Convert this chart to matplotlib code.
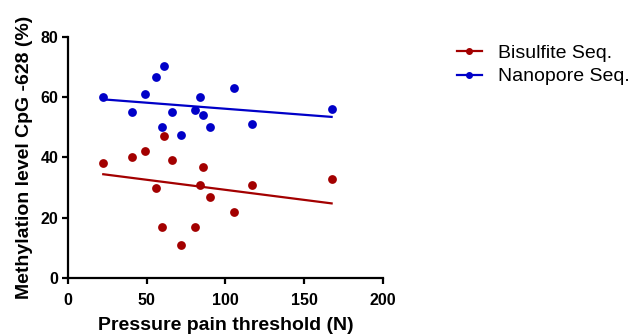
import numpy as np
import matplotlib
matplotlib.use("Agg")
import matplotlib.pyplot as plt
from matplotlib.lines import Line2D

plt.rcParams['font.family'] = ['Liberation Sans', 'DejaVu Sans']

# Pressure pain threshold (N), same subjects for both methods
threshold = [22.4, 40.4, 48.7, 55.7, 61.2, 59.9, 65.8, 71.9, 80.6, 83.8, 85.5, 90.0, 105.4, 117.0, 167.4]
bisulfite = [38.1, 40.1, 42.1, 30.0, 47.1, 16.9, 39.0, 10.9, 16.9, 31.0, 37.0, 26.9, 21.9, 31.0, 33.0]
nanopore = [60.1, 55.1, 61.1, 66.8, 70.2, 50.1, 55.1, 47.6, 55.8, 60.1, 54.0, 50.1, 63.1, 51.1, 56.1]

series = [("Bisulfite Seq.", bisulfite, "#A30000"),
          ("Nanopore Seq.", nanopore, "#0000C8")]

fig = plt.figure(figsize=(6.33, 3.36), dpi=100)
ax = fig.add_axes([0.1074, 0.1726, 0.4976, 0.7174])

x = np.array(threshold)
handles = []
for label, vals, col in series:
    y = np.array(vals)
    ax.scatter(x, y, s=40, color=col, zorder=3, linewidths=0)
    # linear regression line over the data range
    slope, icpt = np.polyfit(x, y, 1)
    xs = np.array([x.min(), x.max()])
    ax.plot(xs, slope * xs + icpt, color=col, lw=1.6, zorder=2)
    handles.append(Line2D([], [], color=col, lw=1.6, marker='o', markersize=4, label=label))

ax.set_xlim(0, 200)
ax.set_ylim(0, 80)
ax.set_xticks([0, 50, 100, 150, 200])
ax.set_yticks([0, 20, 40, 60, 80])
for s in ['top', 'right']:
    ax.spines[s].set_visible(False)
for s in ['left', 'bottom']:
    ax.spines[s].set_linewidth(1.6)
ax.tick_params(width=1.6, length=4.5, labelsize=11.5, direction='out')
ax.tick_params(axis='x', pad=6.5)
ax.tick_params(axis='y', pad=2.5)
for lab in ax.get_xticklabels() + ax.get_yticklabels():
    lab.set_fontweight('bold')

ax.set_xlabel("Pressure pain threshold (N)", fontsize=14, fontweight='bold', labelpad=6)
ax.set_ylabel("Methylation level CpG -628 (%)", fontsize=14, fontweight='bold', labelpad=5)

fig.legend(handles=handles, loc='upper left', bbox_to_anchor=(0.694, 0.92),
           frameon=False, fontsize=14, handlelength=1.3, labelspacing=0.3)

fig.savefig("out.png", dpi=100)
